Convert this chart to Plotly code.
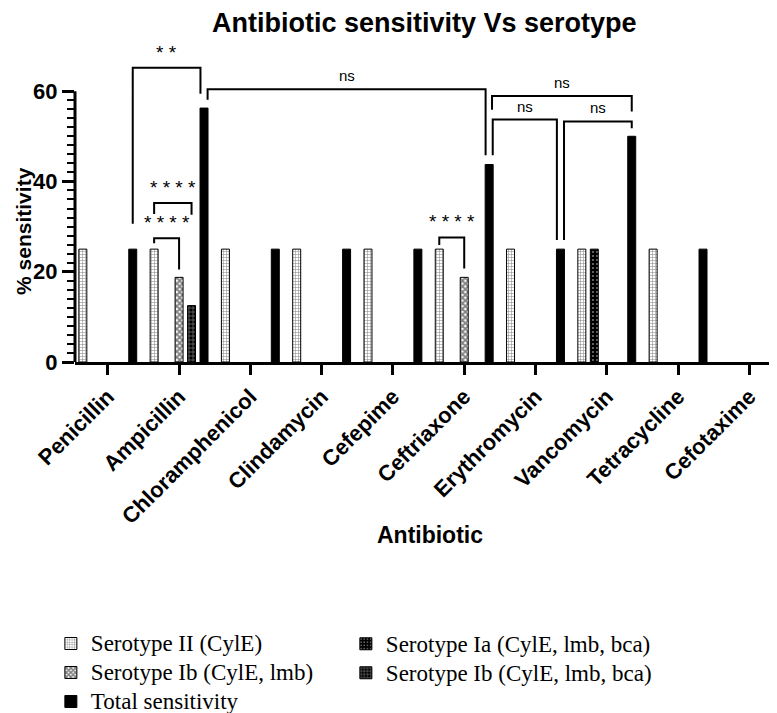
import plotly.graph_objects as go

categories = ["Penicillin", "Ampicillin", "Chloramphenicol", "Clindamycin", "Cefepime",
              "Ceftriaxone", "Erythromycin", "Vancomycin", "Tetracycline", "Cefotaxime"]

# None = no bar drawn (0 %)
sero_II = [25, 25, 25, 25, 25, 25, 25, 25, 25, None]
sero_Ia = [None, None, None, None, None, None, None, 25, None, None]
sero_Ib_lmb = [None, 18.75, None, None, None, 18.75, None, None, None, None]
sero_Ib_bca = [None, 12.5, None, None, None, None, None, None, None, None]
total_sens = [25, 56.25, 25, 25, 25, 43.75, 25, 50, 25, None]

y_tick_vals = [0, 20, 40, 60]

# comparisons: (category A, series A, category B, series B, label)
comparisons = [
    ("Penicillin", "total", "Ampicillin", "total", "* *"),
    ("Ampicillin", "II", "Ampicillin", "Ib_bca", "* * * *"),
    ("Ampicillin", "II", "Ampicillin", "Ib_lmb", "* * * *"),
    ("Ampicillin", "total", "Ceftriaxone", "total", "ns"),
    ("Ceftriaxone", "total", "Vancomycin", "total", "ns"),
    ("Ceftriaxone", "total", "Erythromycin", "total", "ns"),
    ("Erythromycin", "total", "Vancomycin", "total", "ns"),
    ("Ceftriaxone", "II", "Ceftriaxone", "Ib_lmb", "* * * *"),
]
# bracket geometry (styling): left-leg bottom, top, right-leg bottom, left nudge, right nudge
bracket_geom = [
    (30.6, 65.2, 59.4, 0.0, -0.05),
    (32.8, 35.2, 32.6, 0.0, 0.0),
    (26.3, 27.4, 20.5, 0.0, 0.0),
    (58.1, 60.4, 45.8, 0.05, -0.05),
    (55.9, 58.9, 55.5, 0.04, 0.0),
    (45.8, 53.7, 27.0, 0.05, -0.05),
    (27.0, 53.3, 51.8, 0.05, 0.0),
    (25.9, 27.6, 20.7, 0.0, 0.0),
]

BARGAP = 0.125
series_order = ["II", "Ia", "Ib_lmb", "Ib_bca", "total"]
slot = (1 - BARGAP) / len(series_order)
offset = {s: -(1 - BARGAP) / 2 + (i + 0.5) * slot for i, s in enumerate(series_order)}


def leg(name):
    return f'<span style="font-size:23px">{name}</span>'


line_style = dict(color="black", width=1)
fig = go.Figure()
fig.add_trace(go.Bar(x=categories, y=sero_II, name=leg("Serotype II (CylE)"), legend="legend",
                     marker=dict(color="white", line=line_style,
                                 pattern=dict(shape="+", fgcolor="#222", bgcolor="white",
                                              size=3, solidity=0.35))))
fig.add_trace(go.Bar(x=categories, y=sero_Ia, name=leg("Serotype Ia (CylE, lmb, bca)"),
                     legend="legend2",
                     marker=dict(color="black", line=line_style,
                                 pattern=dict(shape=".", fgcolor="white", bgcolor="black",
                                              size=4, solidity=0.2))))
fig.add_trace(go.Bar(x=categories, y=sero_Ib_lmb, name=leg("Serotype Ib (CylE, lmb)"),
                     legend="legend",
                     marker=dict(color="white", line=line_style,
                                 pattern=dict(shape="x", fgcolor="black", bgcolor="white",
                                              size=4, solidity=0.7))))
fig.add_trace(go.Bar(x=categories, y=sero_Ib_bca, name=leg("Serotype Ib (CylE, lmb, bca)"),
                     legend="legend2",
                     marker=dict(color="black", line=line_style,
                                 pattern=dict(shape="+", fgcolor="white", bgcolor="black",
                                              size=4, solidity=0.3))))
fig.add_trace(go.Bar(x=categories, y=total_sens, name=leg("Total sensitivity"),
                     legend="legend",
                     marker=dict(color="black", line=line_style)))

shapes = []
annotations = []
for (ca, sa, cb, sb, label), (yl, yt, yr, nl, nr) in zip(comparisons, bracket_geom):
    xa = categories.index(ca) + offset[sa] + nl
    xb = categories.index(cb) + offset[sb] + nr
    shapes.append(dict(type="path", xref="x", yref="y",
                       path=f"M {xa},{yl} L {xa},{yt} L {xb},{yt} L {xb},{yr}",
                       line=dict(color="black", width=2)))
    is_ns = label == "ns"
    annotations.append(dict(x=(xa + xb) / 2, y=yt, xref="x", yref="y", text=label,
                            showarrow=False, yanchor="bottom", yshift=3,
                            font=dict(family="Liberation Sans", size=15 if is_ns else 19,
                                      color="black")))

# y axis line only up to 60
shapes.append(dict(type="line", xref="paper", yref="y", x0=0, x1=0, y0=0, y1=60,
                   line=dict(color="black", width=3)))

# y axis title (centred on the 0-60 part of the axis)
annotations.append(dict(text="<b>% sensitivity</b>", textangle=-90, showarrow=False,
                        xref="paper", x=-0.0925, xanchor="left",
                        yref="y", y=29, yanchor="middle",
                        font=dict(family="Liberation Sans", size=21, color="black")))

legend_common = dict(orientation="v", xanchor="left", y=-0.83, yanchor="top",
                     font=dict(family="Liberation Serif", size=20, color="black"),
                     traceorder="normal", bgcolor="rgba(0,0,0,0)")

fig.update_layout(
    width=777, height=713,
    margin=dict(l=67, r=0, t=38, b=351),
    paper_bgcolor="white", plot_bgcolor="white",
    barmode="group", bargap=BARGAP, bargroupgap=0.36,
    title=dict(text="<b>Antibiotic sensitivity Vs serotype</b>", x=0.492, xref="paper",
               xanchor="center", y=1 - 15 / 713, yref="container", yanchor="middle",
               font=dict(family="Liberation Sans", size=27, color="black")),
    xaxis=dict(range=[-0.46, 9.5], showline=True, linewidth=3, linecolor="black",
               ticks="outside", ticklen=10, tickwidth=3, tickcolor="black",
               tickangle=-45, showgrid=False, zeroline=False,
               tickfont=dict(family="Liberation Sans", size=22, color="black", weight="bold"),
               title=dict(text="<b>Antibiotic</b>", standoff=0,
                          font=dict(family="Liberation Sans", size=23, color="black"))),
    yaxis=dict(range=[0, 70], showline=False, showgrid=False, zeroline=False,
               tickmode="array", tickvals=y_tick_vals,
               ticks="outside", ticklen=12, tickwidth=3, tickcolor="black",
               tickfont=dict(family="Liberation Sans", size=22, color="black", weight="bold"),
               minor=dict(tickmode="array",
                          tickvals=[v for v in range(0, 61, 2) if v % 20],
                          ticks="outside", ticklen=7, tickwidth=2, tickcolor="black")),
    legend=dict(x=-0.034, **legend_common),
    legend2=dict(x=-0.034 + 295 / 710, **legend_common),
    shapes=shapes,
    annotations=annotations,
)

fig.write_html("out.html")
